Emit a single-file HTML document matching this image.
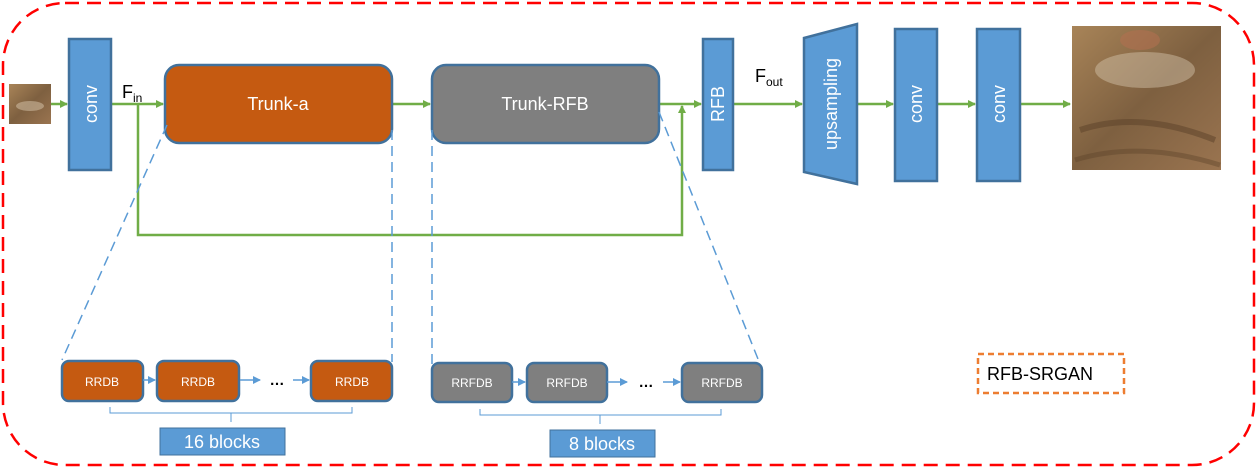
<!DOCTYPE html>
<html><head><meta charset="utf-8"><style>
html,body{margin:0;padding:0;background:#fff;}
svg{display:block;font-family:"Liberation Sans","DejaVu Sans",sans-serif;}
</style></head><body>
<svg width="1257" height="469" viewBox="0 0 1257 469" xmlns="http://www.w3.org/2000/svg">
<defs>
<marker id="ga" markerWidth="8" markerHeight="8" refX="7" refY="4" orient="auto" markerUnits="userSpaceOnUse"><path d="M0,0 L8,4 L0,8 z" fill="#70AD47"/></marker>
<marker id="ba" markerWidth="8" markerHeight="8" refX="7" refY="4" orient="auto" markerUnits="userSpaceOnUse"><path d="M0,0 L8,4 L0,8 z" fill="#5B9BD5"/></marker>
<linearGradient id="cat" x1="0" y1="0" x2="1" y2="1"><stop offset="0" stop-color="#a88458"/><stop offset="0.5" stop-color="#7e6040"/><stop offset="1" stop-color="#9a7450"/></linearGradient>
</defs>
<rect x="3" y="3" width="1251" height="462" rx="62" fill="none" stroke="#FF0000" stroke-width="2.5" stroke-dasharray="14,8"/>
<!-- small cat -->
<rect x="9" y="84" width="42" height="40" fill="url(#cat)"/>
<ellipse cx="30" cy="106" rx="14" ry="5" fill="#cbb89c" opacity="0.6"/>
<!-- big cat -->
<rect x="1072" y="26" width="149" height="144" fill="url(#cat)"/>
<ellipse cx="1145" cy="70" rx="50" ry="18" fill="#d8c8b0" opacity="0.45"/>
<ellipse cx="1140" cy="40" rx="20" ry="10" fill="#b07050" opacity="0.6"/>
<path d="M1080,130 Q1140,110 1215,140" stroke="#5a4028" stroke-width="6" fill="none" opacity="0.5"/>
<path d="M1075,160 Q1140,140 1220,165" stroke="#5a4028" stroke-width="5" fill="none" opacity="0.4"/>
<!-- green arrows -->
<g stroke="#70AD47" stroke-width="2.5" fill="none">
<line x1="51" y1="104" x2="67" y2="104" marker-end="url(#ga)"/>
<line x1="111" y1="104" x2="163" y2="104" marker-end="url(#ga)"/>
<line x1="393" y1="104" x2="430" y2="104" marker-end="url(#ga)"/>
<line x1="659" y1="104" x2="701" y2="104" marker-end="url(#ga)"/>
<polyline points="138,104 138,235 682,235 682,106" marker-end="url(#ga)"/>
<line x1="733" y1="104" x2="802" y2="104" marker-end="url(#ga)"/>
<line x1="857" y1="104" x2="893" y2="104" marker-end="url(#ga)"/>
<line x1="938" y1="104" x2="975" y2="104" marker-end="url(#ga)"/>
<line x1="1021" y1="104" x2="1070" y2="104" marker-end="url(#ga)"/>
</g>
<!-- blue blocks -->
<g fill="#5B9BD5" stroke="#41719C" stroke-width="2.5">
<rect x="69" y="39" width="42" height="131"/>
<rect x="703" y="39" width="30" height="131"/>
<polygon points="804,38 857,24 857,184 804,172"/>
<rect x="895" y="29" width="42" height="152"/>
<rect x="977" y="29" width="43" height="152"/>
</g>
<g fill="#fff" font-size="18">
<text transform="translate(97,104) rotate(-90)" text-anchor="middle">conv</text>
<text transform="translate(724,104) rotate(-90)" text-anchor="middle">RFB</text>
<text transform="translate(837,104) rotate(-90)" text-anchor="middle">upsampling</text>
<text transform="translate(922,104) rotate(-90)" text-anchor="middle">conv</text>
<text transform="translate(1005,104) rotate(-90)" text-anchor="middle">conv</text>
</g>
<text x="122" y="98" font-size="18">F<tspan font-size="12" dy="4">in</tspan></text>
<text x="755" y="82" font-size="18">F<tspan font-size="12" dy="4">out</tspan></text>
<!-- trunks -->
<rect x="165" y="65" width="227" height="78" rx="14" fill="#C55A11" stroke="#41719C" stroke-width="2.5"/>
<text x="278" y="110" fill="#fff" font-size="18" text-anchor="middle">Trunk-a</text>
<rect x="432" y="65" width="227" height="78" rx="14" fill="#7F7F7F" stroke="#41719C" stroke-width="2.5"/>
<text x="545" y="110" fill="#fff" font-size="18" text-anchor="middle">Trunk-RFB</text>
<!-- dashed zoom lines -->
<g stroke="#5B9BD5" stroke-width="1.5" stroke-dasharray="10,6" fill="none">
<line x1="167" y1="125" x2="62" y2="360"/>
<line x1="392" y1="130" x2="392" y2="362"/>
<line x1="432" y1="130" x2="432" y2="364"/>
<line x1="659" y1="112" x2="760" y2="364"/>
</g>
<!-- small blocks -->
<g stroke="#41719C" stroke-width="2.5">
<rect x="62" y="361" width="81" height="40" rx="7" fill="#C55A11"/>
<rect x="157" y="361" width="82" height="40" rx="7" fill="#C55A11"/>
<rect x="311" y="361" width="81" height="40" rx="7" fill="#C55A11"/>
<rect x="432" y="363" width="80" height="39" rx="7" fill="#7F7F7F"/>
<rect x="527" y="363" width="80" height="39" rx="7" fill="#7F7F7F"/>
<rect x="682" y="363" width="80" height="39" rx="7" fill="#7F7F7F"/>
</g>
<g fill="#fff" font-size="12" text-anchor="middle">
<text x="102" y="386">RRDB</text><text x="198" y="386">RRDB</text><text x="352" y="386">RRDB</text>
<text x="472" y="387">RRFDB</text><text x="567" y="387">RRFDB</text><text x="722" y="387">RRFDB</text>
</g>
<g stroke="#5B9BD5" stroke-width="1.5">
<line x1="143" y1="380" x2="155" y2="380" marker-end="url(#ba)"/>
<line x1="240" y1="380" x2="260" y2="380" marker-end="url(#ba)"/>
<line x1="293" y1="380" x2="309" y2="380" marker-end="url(#ba)"/>
<line x1="512" y1="382" x2="525" y2="382" marker-end="url(#ba)"/>
<line x1="607" y1="382" x2="627" y2="382" marker-end="url(#ba)"/>
<line x1="663" y1="382" x2="680" y2="382" marker-end="url(#ba)"/>
</g>
<text x="277" y="385" font-size="15" font-weight="bold" text-anchor="middle">…</text>
<text x="646" y="387" font-size="15" font-weight="bold" text-anchor="middle">…</text>
<!-- braces -->
<g stroke="#5B9BD5" stroke-width="1" fill="none">
<polyline points="110,407 110,413 352,413 352,407"/>
<line x1="231" y1="413" x2="231" y2="422"/>
<polyline points="480,409 480,415 721,415 721,409"/>
<line x1="600" y1="415" x2="600" y2="424"/>
</g>
<rect x="160" y="428" width="125" height="27" fill="#5B9BD5" stroke="#41719C" stroke-width="1"/>
<text x="222" y="448" fill="#fff" font-size="18" text-anchor="middle">16 blocks</text>
<rect x="550" y="430" width="105" height="27" fill="#5B9BD5" stroke="#41719C" stroke-width="1"/>
<text x="602" y="450" fill="#fff" font-size="18" text-anchor="middle">8 blocks</text>
<rect x="978" y="354" width="146" height="39" fill="none" stroke="#ED7D31" stroke-width="2.5" stroke-dasharray="6,4"/>
<text x="987" y="380" font-size="18">RFB-SRGAN</text>
</svg>
</body></html>
